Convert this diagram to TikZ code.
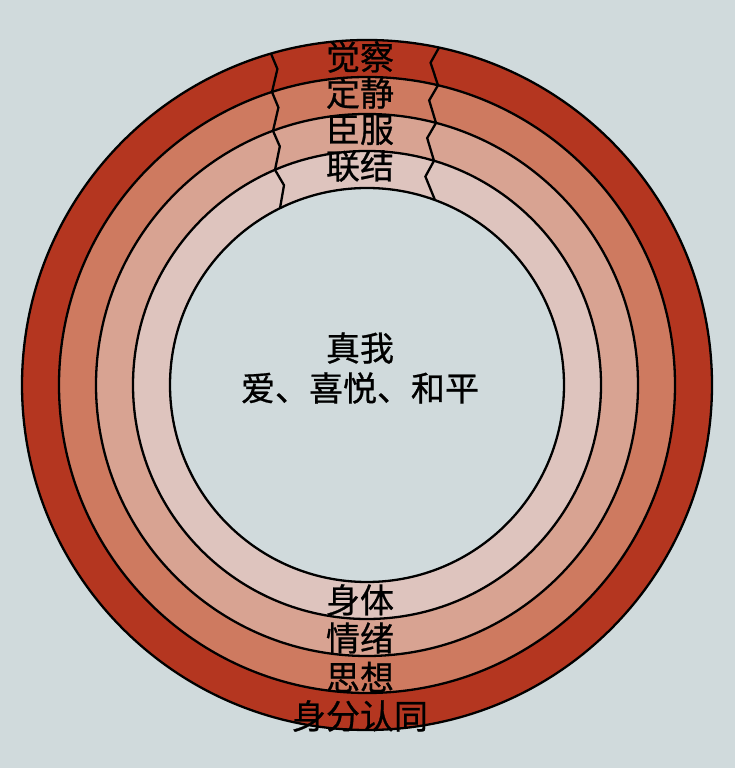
\documentclass[tikz,border=0pt]{standalone}
\usepackage{fontspec}
\newfontfamily\cjk[BoldFont={Noto Sans CJK SC},BoldFeatures={FakeBold=0.7}]{Noto Sans CJK SC}
\usetikzlibrary{calc}
\definecolor{bg}{RGB}{208,218,220}
\definecolor{ringA}{RGB}{180,54,32}
\definecolor{ringB}{RGB}{206,122,96}
\definecolor{ringC}{RGB}{216,163,146}
\definecolor{ringD}{RGB}{222,196,190}
\definecolor{core}{RGB}{208,218,220}
\begin{document}
\begin{tikzpicture}[x=1pt,y=1pt,
  ring/.style={draw=black,line width=2.3pt},
  zig/.style={draw=black,line width=2.3pt,line join=miter},
  lbl/.style={font=\cjk\bfseries\fontsize{34}{38}\selectfont,inner sep=0pt,align=center}]
\fill[bg] (0,0) rectangle (735,768);
\useasboundingbox (0,0) rectangle (735,768);
\coordinate (c) at (367,383);
\draw[ring,fill=ringA] (c) circle (345pt);
\draw[ring,fill=ringB] (c) circle (308pt);
\draw[ring,fill=ringC] (c) circle (271pt);
\draw[ring,fill=ringD] (c) circle (234pt);
\draw[ring,fill=core] (c) circle (197pt);
% left zigzag
\coordinate (L0) at ($(c)+({acos(-96/345)}:345pt)$);
\coordinate (L1) at ($(c)+({acos(-95/308)}:308pt)$);
\coordinate (L2) at ($(c)+({acos(-94/271)}:271pt)$);
\coordinate (L3) at ($(c)+({acos(-92/234)}:234pt)$);
\coordinate (L4) at ($(c)+({acos(-87/197)}:197pt)$);
\draw[zig] (L0) -- ($(L0)!0.4!(L1)+(6,0)$) -- (L1) -- ($(L1)!0.4!(L2)+(6,0)$) -- (L2)
  -- ($(L2)!0.4!(L3)+(6,0)$) -- (L3) -- ($(L3)!0.4!(L4)+(7,0)$) -- (L4);
% right zigzag
\coordinate (R0) at ($(c)+({acos(72/345)}:345pt)$);
\coordinate (R1) at ($(c)+({acos(71/308)}:308pt)$);
\coordinate (R2) at ($(c)+({acos(69/271)}:271pt)$);
\coordinate (R3) at ($(c)+({acos(67/234)}:234pt)$);
\coordinate (R4) at ($(c)+({acos(68/197)}:197pt)$);
\draw[zig] (R0) -- ($(R0)!0.4!(R1)+(-8,0)$) -- (R1) -- ($(R1)!0.4!(R2)+(-8,0)$) -- (R2)
  -- ($(R2)!0.4!(R3)+(-8,0)$) -- (R3) -- ($(R3)!0.4!(R4)+(-9,0)$) -- (R4);
% labels
\node[lbl] (t1) at (360,711) {觉察};
\node[lbl] (t2) at (360,675) {定静};
\node[lbl] (t3) at (360,638) {臣服};
\node[lbl] (t4) at (360,602) {联结};
\node[lbl] (m1) at (360,420) {真我};
\node[lbl] (m2) at (360,380) {爱、喜悦、和平};
\node[lbl] (b1) at (360,168) {身体};
\node[lbl] (b2) at (360,130) {情绪};
\node[lbl] (b3) at (360,91) {思想};
\node[lbl] (b4) at (360,52) {身分认同};
\end{tikzpicture}
\end{document}
